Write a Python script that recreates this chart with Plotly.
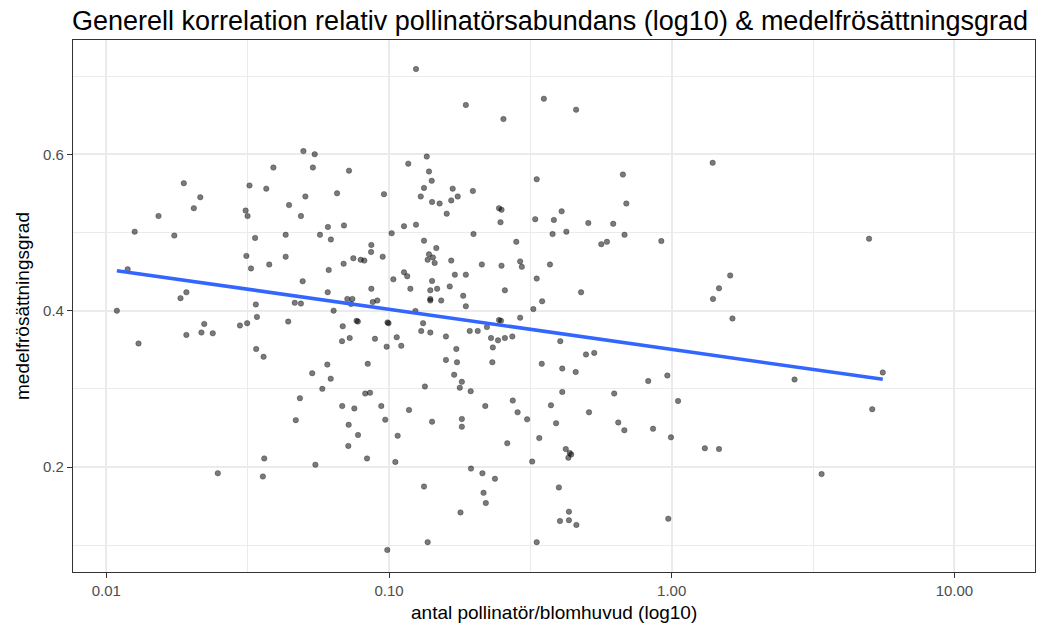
import numpy as np
import plotly.graph_objects as go

# antal pollinatör per blomhuvud (x, log10-axis)
pollinators = [
    0.0390, 0.0188, 0.0321, 0.0368, 0.0215, 0.0443, 0.0204, 0.0311, 0.0316, 0.0153,
    0.0488, 0.0126, 0.0174, 0.0431, 0.1246, 0.187, 0.0498, 0.0546, 0.136, 0.117,
    0.0538, 0.0722, 0.1385, 0.1416, 0.133, 0.168, 0.198, 0.0506, 0.0655, 0.0960,
    0.1295, 0.175, 0.142, 0.151, 0.166, 0.160, 0.245, 0.250, 0.248, 0.0608,
    0.0693, 0.113, 0.1246, 0.0570, 0.1022, 0.199, 0.254, 0.353, 0.459, 0.333,
    0.672, 0.691, 0.408, 0.329, 0.383, 0.507, 0.621, 0.379, 0.424, 0.681,
    0.0336, 0.0313, 0.0431, 0.0377, 0.0325, 0.0119, 0.0192, 0.0183, 0.0338, 0.0464,
    0.0488, 0.0109, 0.0341, 0.0222, 0.0315, 0.0297, 0.0440, 0.0192, 0.0217, 0.0238,
    0.0130, 0.0339, 0.0360, 0.0484, 0.0623, 0.133, 0.147, 0.0866, 0.0864, 0.1385,
    0.137, 0.143, 0.145, 0.0748, 0.0794, 0.0818, 0.0950, 0.166, 0.213, 0.0691,
    0.0612, 0.113, 0.116, 0.171, 0.187, 0.0495, 0.1036, 0.142, 0.164, 0.119,
    0.0866, 0.140, 0.148, 0.0607, 0.183, 0.0712, 0.0742, 0.140, 0.140, 0.153,
    0.0876, 0.0909, 0.0734, 0.187, 0.0637, 0.124, 0.0768, 0.0776, 0.0988, 0.0996,
    0.132, 0.0686, 0.130, 0.140, 0.193, 0.206, 0.222, 0.245, 0.249, 0.0726,
    0.0682, 0.0892, 0.1065, 0.1105, 0.0981, 0.159, 0.2295, 0.243, 0.233, 0.173,
    0.159, 0.174, 0.232, 0.0605, 0.0841, 0.0535, 0.0622, 0.170, 0.181, 0.0581,
    0.134, 0.178, 0.1945, 0.0824, 0.0857, 0.0683, 0.0939, 0.219, 0.282, 0.5635,
    0.590, 0.919, 0.250, 0.291, 0.295, 0.371, 0.333, 0.257, 0.478, 0.348,
    0.324, 0.291, 0.257, 0.273, 0.4035, 0.4975, 0.532, 0.347, 0.410, 0.4575,
    0.826, 0.965, 0.410, 0.626, 0.274, 0.374, 1.053, 0.0468, 0.0362, 0.0358,
    0.0248, 0.0754, 0.1177, 0.0720, 0.0970, 0.142, 0.181, 0.181, 0.0777, 0.1073,
    0.0718, 0.0836, 0.1053, 0.0549, 0.195, 0.214, 0.237, 0.133, 0.216, 0.220,
    0.179, 0.137, 0.0986, 0.285, 0.510, 0.308, 0.390, 0.647, 0.680, 0.859,
    0.994, 0.262, 0.340, 0.422, 0.436, 0.441, 0.431, 0.321, 0.399, 0.433,
    0.4025, 0.433, 0.460, 0.333, 0.9725, 1.396, 4.99, 1.61, 1.47, 1.40,
    1.64, 2.72, 5.58, 5.12, 1.31, 1.47, 3.39,
]

# medelfrösättningsgrad (y)
seed_set = [
    0.583, 0.563, 0.560, 0.556, 0.545, 0.535, 0.531, 0.528, 0.521, 0.521,
    0.521, 0.501, 0.496, 0.497, 0.709, 0.663, 0.604, 0.600, 0.597, 0.588,
    0.583, 0.579, 0.578, 0.566, 0.557, 0.556, 0.553, 0.546, 0.550, 0.549,
    0.546, 0.546, 0.539, 0.537, 0.541, 0.524, 0.531, 0.529, 0.513, 0.507,
    0.509, 0.508, 0.510, 0.497, 0.499, 0.498, 0.645, 0.671, 0.657, 0.568,
    0.574, 0.537, 0.527, 0.517, 0.516, 0.512, 0.511, 0.498, 0.501, 0.497,
    0.493, 0.470, 0.469, 0.459, 0.454, 0.453, 0.4235, 0.416, 0.408, 0.410,
    0.409, 0.400, 0.392, 0.383, 0.384, 0.381, 0.386, 0.369, 0.372, 0.371,
    0.358, 0.351, 0.341, 0.288, 0.491, 0.4895, 0.480, 0.484, 0.475, 0.472,
    0.465, 0.468, 0.461, 0.467, 0.465, 0.464, 0.469, 0.464, 0.459, 0.460,
    0.452, 0.449, 0.444, 0.446, 0.446, 0.4376, 0.440, 0.438, 0.431, 0.428,
    0.428, 0.426, 0.428, 0.4235, 0.419, 0.415, 0.415, 0.415, 0.413, 0.413,
    0.411, 0.413, 0.4085, 0.4056, 0.400, 0.3996, 0.387, 0.386, 0.385, 0.384,
    0.384, 0.380, 0.374, 0.372, 0.374, 0.374, 0.379, 0.388, 0.387, 0.365,
    0.361, 0.364, 0.366, 0.355, 0.354, 0.367, 0.365, 0.362, 0.353, 0.351,
    0.337, 0.334, 0.334, 0.331, 0.332, 0.320, 0.313, 0.318, 0.309, 0.300,
    0.303, 0.3015, 0.297, 0.294, 0.295, 0.278, 0.278, 0.278, 0.488, 0.485,
    0.488, 0.489, 0.4575, 0.463, 0.456, 0.459, 0.441, 0.426, 0.4235, 0.412,
    0.402, 0.391, 0.365, 0.367, 0.361, 0.344, 0.346, 0.332, 0.326, 0.3216,
    0.310, 0.317, 0.296, 0.294, 0.285, 0.279, 0.2845, 0.260, 0.211, 0.188,
    0.192, 0.275, 0.273, 0.254, 0.2606, 0.258, 0.2615, 0.2516, 0.241, 0.240,
    0.227, 0.211, 0.2065, 0.203, 0.198, 0.192, 0.185, 0.175, 0.167, 0.154,
    0.142, 0.104, 0.094, 0.270, 0.270, 0.261, 0.256, 0.257, 0.247, 0.249,
    0.238, 0.2304, 0.237, 0.223, 0.218, 0.216, 0.212, 0.207, 0.174, 0.143,
    0.131, 0.132, 0.126, 0.104, 0.134, 0.589, 0.492, 0.445, 0.4286, 0.415,
    0.390, 0.312, 0.321, 0.274, 0.224, 0.223, 0.191,
]

x_tickvals = [0.01, 0.1, 1, 10]
x_ticktext = ["0.01", "0.10", "1.00", "10.00"]
y_tickvals = [0.2, 0.4, 0.6]
y_ticktext = ["0.2", "0.4", "0.6"]

title_text = "Generell korrelation relativ pollinatörsabundans (log10) & medelfrösättningsgrad"
x_title = "antal pollinatör/blomhuvud (log10)"
y_title = "medelfrösättningsgrad"

# linear fit on log10(x), like geom_smooth(method = "lm") on a log10 scale
logx = np.log10(np.array(pollinators))
yv = np.array(seed_set)
slope, intercept = np.polyfit(logx, yv, 1)
fit_x = np.logspace(logx.min(), logx.max(), 60)
fit_y = intercept + slope * np.log10(fit_x)

FONT = "Liberation Sans, Arial, Helvetica, sans-serif"
GRID = "#EBEBEB"

fig = go.Figure()
fig.add_trace(go.Scatter(
    x=pollinators, y=seed_set, mode="markers",
    marker=dict(size=5.5, color="rgba(0,0,0,0.52)",
                line=dict(width=0.8, color="rgba(0,0,0,0.35)")),
    hoverinfo="x+y", showlegend=False,
))
fig.add_trace(go.Scatter(
    x=fit_x, y=fit_y, mode="lines",
    line=dict(color="#3366FF", width=3.6),
    hoverinfo="skip", showlegend=False,
))

fig.update_layout(
    width=1047, height=628,
    margin=dict(l=73, r=12, t=40, b=56),
    paper_bgcolor="white", plot_bgcolor="white",
    font=dict(family=FONT, color="black"),
    title=dict(text=title_text, x=72/1047, xanchor="left", xref="container",
               y=1 - 21/628, yanchor="middle", yref="container",
               font=dict(size=27, color="black", family=FONT)),
    xaxis=dict(
        type="log", range=[-2.1178, 1.2851],
        tickvals=x_tickvals, ticktext=x_ticktext,
        tickfont=dict(size=15, color="#4D4D4D"),
        ticks="outside", ticklen=5, tickcolor="#333333", tickwidth=1,
        showgrid=True, gridcolor=GRID, gridwidth=1.6,
        minor=dict(tickvals=[10**-1.5, 10**-0.5, 10**0.5], showgrid=True,
                   gridcolor=GRID, gridwidth=0.9, ticks=""),
        showline=True, linecolor="#333333", linewidth=1.1, mirror=True,
        zeroline=False,
    ),
    yaxis=dict(
        range=[0.0658, 0.7461],
        tickvals=y_tickvals, ticktext=y_ticktext,
        tickfont=dict(size=15, color="#4D4D4D"),
        ticks="outside", ticklen=5, tickcolor="#333333", tickwidth=1,
        showgrid=True, gridcolor=GRID, gridwidth=1.6,
        minor=dict(tickvals=[0.1, 0.3, 0.5, 0.7], showgrid=True,
                   gridcolor=GRID, gridwidth=0.9, ticks=""),
        showline=True, linecolor="#333333", linewidth=1.1, mirror=True,
        zeroline=False,
    ),
    annotations=[
        dict(text=x_title, xref="paper", yref="paper", x=0.5, y=-(612 - 572) / 532,
             xanchor="center", yanchor="middle", showarrow=False,
             font=dict(size=19, color="black", family=FONT)),
        dict(text=y_title, xref="paper", yref="paper", x=(22 - 73) / 962, y=0.5,
             xanchor="center", yanchor="middle", textangle=-90, showarrow=False,
             font=dict(size=19, color="black", family=FONT)),
    ],
)

fig.write_html("out.html")
